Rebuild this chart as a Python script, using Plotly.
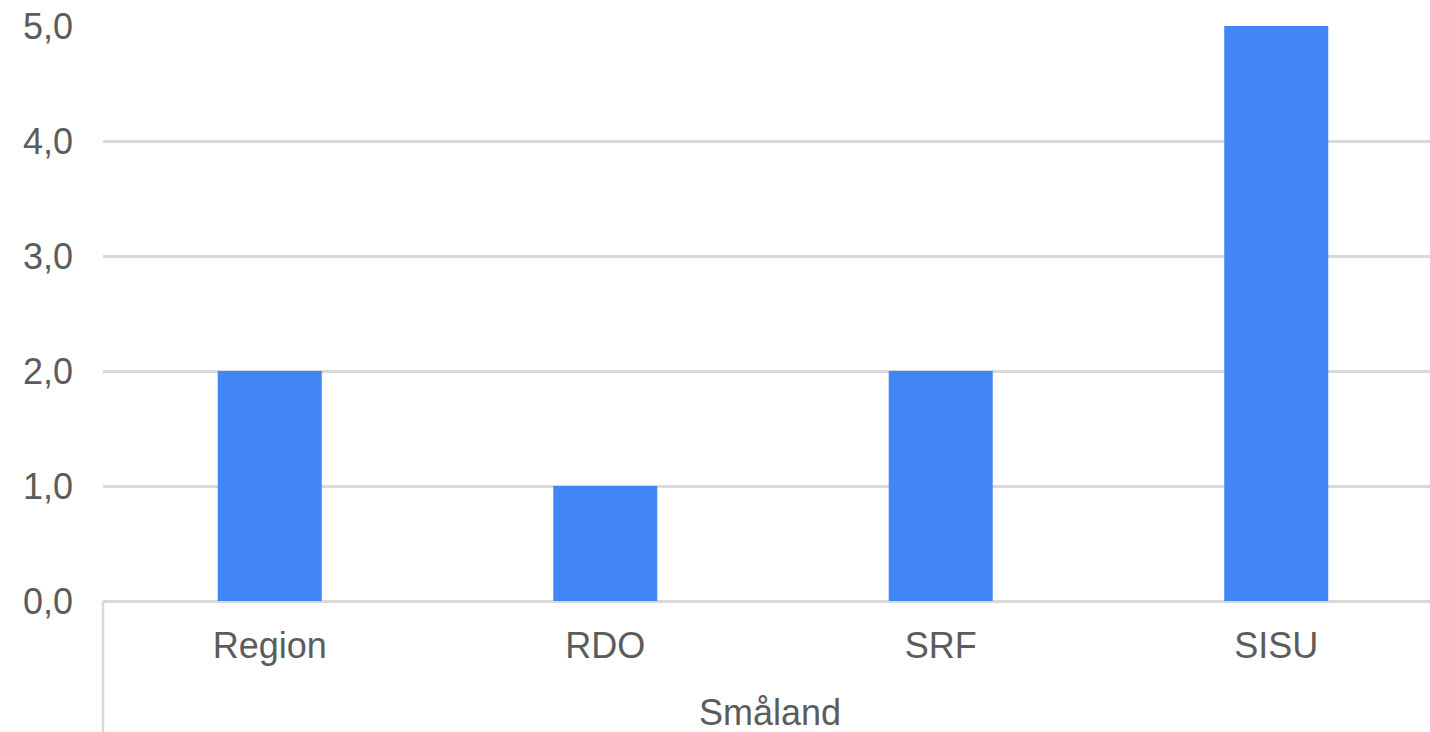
import plotly.graph_objects as go

categories = ["Region", "RDO", "SRF", "SISU"]
group_label = "Småland"
values = [2.0, 1.0, 2.0, 5.0]
y_ticks = [0, 1, 2, 3, 4, 5]

W, H = 1430, 732
L, R, T, B = 103, 0, 26, 131
plot_h = H - T - B
plot_w = W - L - R
cat_px = 335.5  # pixel width of one category band (band continues past right edge)

fig = go.Figure(go.Bar(x=categories, y=values, width=0.31,
                       marker=dict(color="#4285F4", line=dict(width=0))))

fig.update_layout(
    width=W, height=H,
    margin=dict(l=L, r=R, t=T, b=B, pad=0, autoexpand=False),
    paper_bgcolor="white", plot_bgcolor="white",
    separators=", ",
    showlegend=False,
    font=dict(family="Liberation Sans, Arial, sans-serif", size=36, color="#5c5c5c"),
)
fig.update_yaxes(
    range=[0, 5], tickvals=y_ticks, tickformat=".1f", automargin=False,
    showgrid=True, gridcolor="#d9d9d9", gridwidth=2.5,
    zeroline=True, zerolinecolor="#d9d9d9", zerolinewidth=2.5,
    showline=False, ticks="", ticklabelstandoff=29,
)
fig.update_xaxes(
    range=[-0.497, -0.497 + plot_w / cat_px],
    showgrid=False, showline=False, ticks="", ticklabelstandoff=20, automargin=False,
)
fig.add_shape(type="line", xref="paper", yref="paper", x0=0, x1=0, y0=0, y1=-B / plot_h,
              line=dict(color="#d9d9d9", width=2.5))
fig.add_annotation(text=group_label, xref="paper", yref="paper", x=(770 - L) / plot_w,
                   y=-(712 - 601) / plot_h,
                   xanchor="center", yanchor="middle", showarrow=False,
                   font=dict(size=36, color="#5c5c5c"))

fig.write_html(
    "out.html",
    config={"displayModeBar": False},
    post_script="document.body.style.margin='0';document.body.style.overflow='hidden';",
)
